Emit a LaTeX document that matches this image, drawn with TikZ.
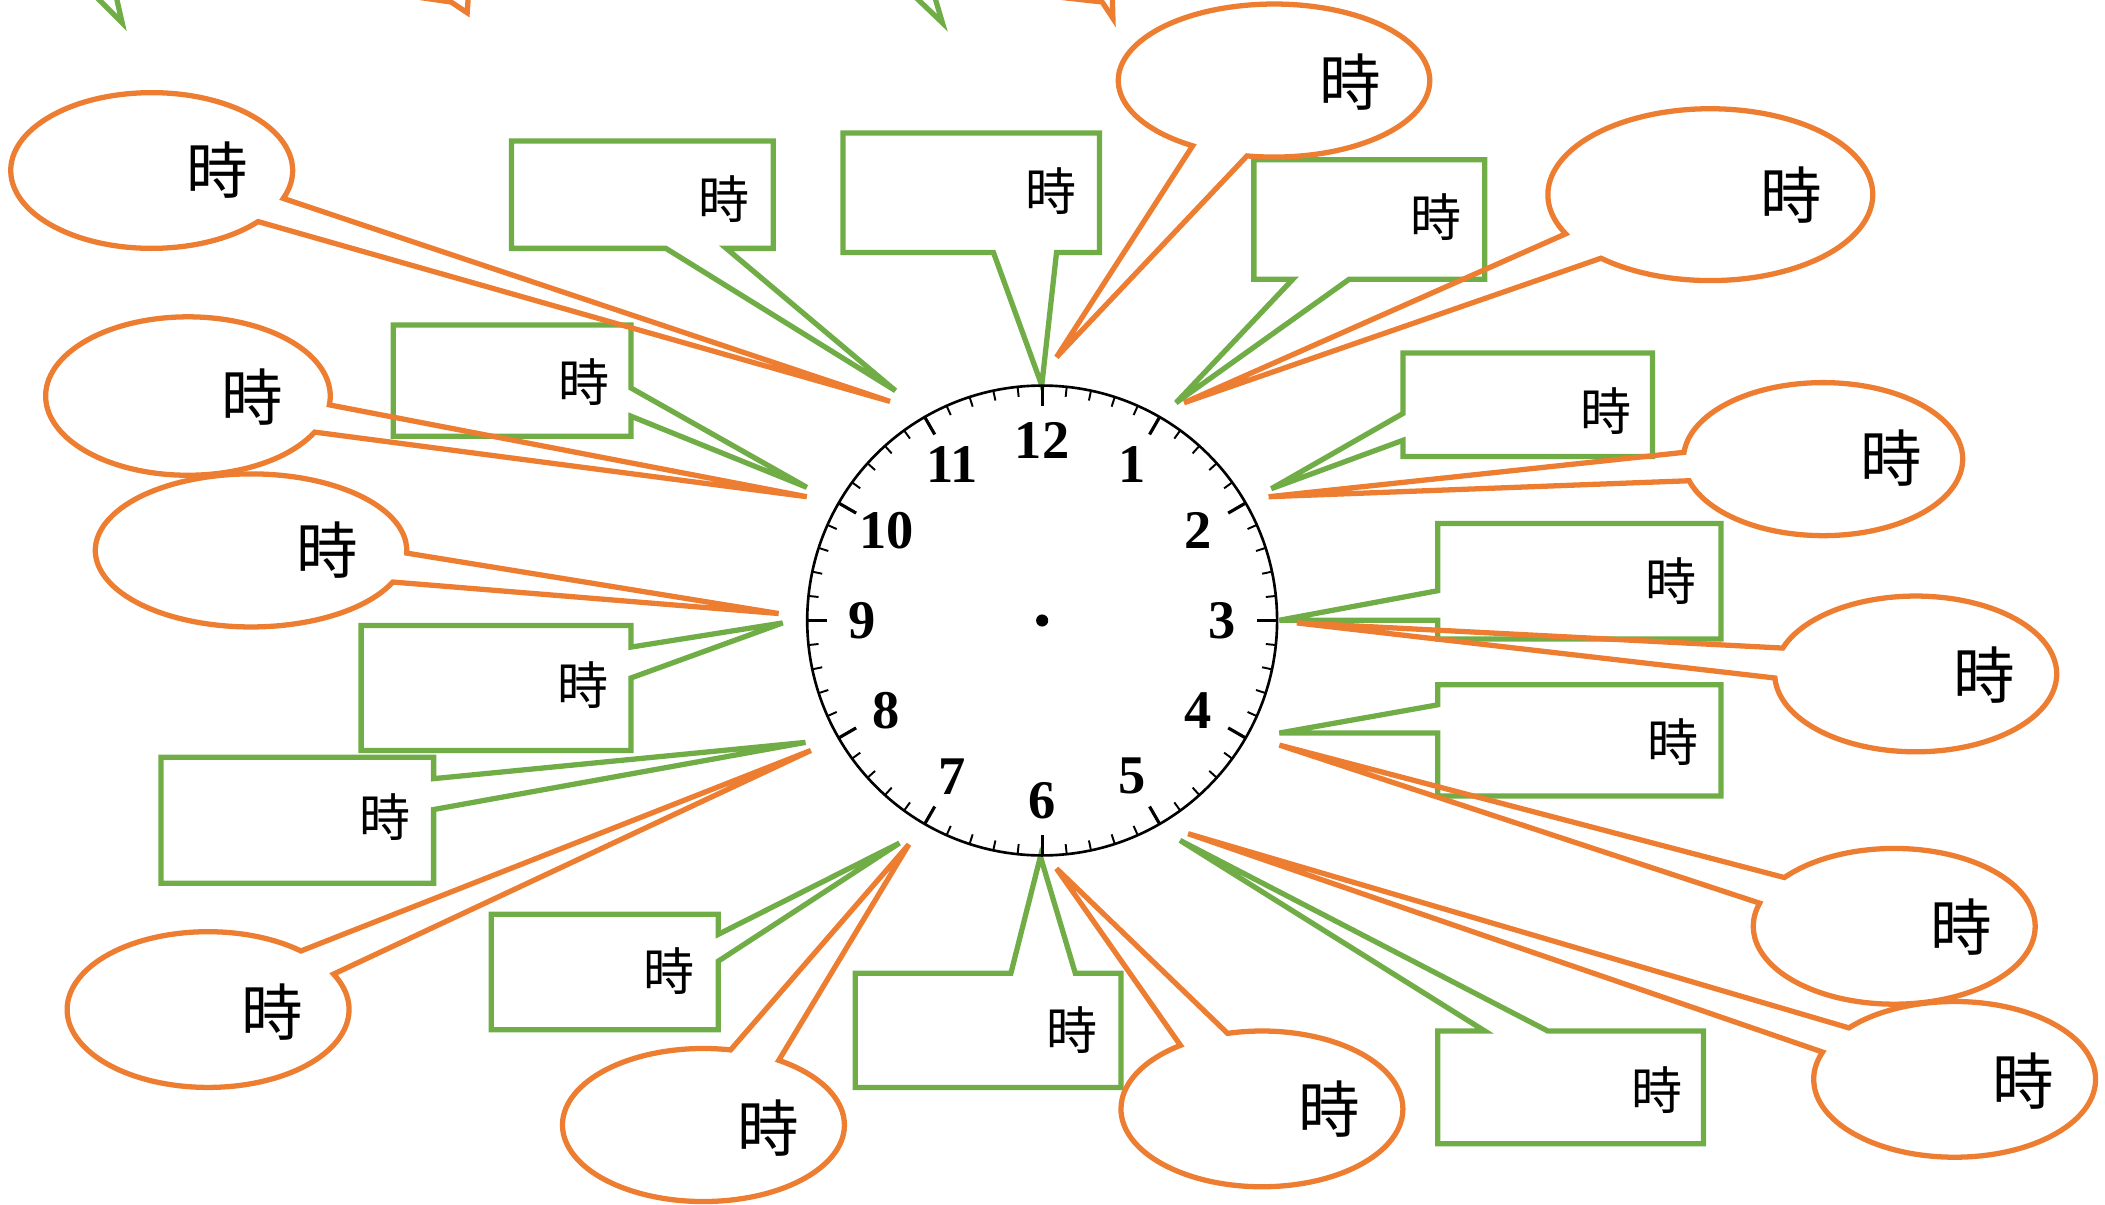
\documentclass[tikz,border=0pt]{standalone}
\usepackage{fontspec}
\setmainfont{Liberation Serif}
\newfontfamily\jpfont{Noto Sans CJK JP}
\usetikzlibrary{calc}
\definecolor{callorange}{HTML}{ED7D31}
\definecolor{callgreen}{HTML}{70AD47}
\tikzset{
 gcall/.style={draw=callgreen, line width=1.5pt},
 ocall/.style={draw=callorange, line width=1.5pt},
 etext/.style={font=\jpfont\fontsize{17.5}{20}\selectfont, inner sep=0pt},
 rtext/.style={font=\jpfont\fontsize{14.5}{17}\selectfont, inner sep=0pt},
 clocknum/.style={font=\bfseries\fontsize{15.5}{18}\selectfont, inner sep=0pt},
 clockline/.style={draw=black, line width=0.75pt},
 minutetick/.style={draw=black, line width=0.55pt},
 hourtick/.style={draw=black, line width=0.9pt},
}
\newcommand\ellcall[6]{\draw[ocall] ($(#1)+(#4:#2 and #3)$) arc[start angle=#4, end angle=#5, x radius=#2, y radius=#3] -- (#6) -- cycle;}
\begin{document}
\begin{tikzpicture}[x=0.013425cm, y=-0.013425cm]
\useasboundingbox (0,0) rectangle (1568,897);
% partial callouts cut off at the top edge
\begin{scope}
\clip (0,0) rectangle (1568,897);
\draw[gcall] (69,-5) -- (91,17) -- (86,-5);
\draw[ocall] (305,-3) -- (336,1.5) -- (348,9.5) -- (349,-5);
\draw[gcall] (679,-5) -- (702,17) -- (695.5,-5);
\draw[ocall] (790,-2) -- (821,1.5) -- (829,13.6) -- (828.5,-5);
\end{scope}
% tips
\coordinate (tG1) at (667,291);
\coordinate (tG2) at (776,287);
\coordinate (tG3) at (876,300);
\coordinate (tG4) at (947,364);
\coordinate (tG5) at (953,462);
\coordinate (tG6) at (953,546);
\coordinate (tG7) at (879,626);
\coordinate (tG8) at (775,638);
\coordinate (tG9) at (670,628);
\coordinate (tG10) at (600,553);
\coordinate (tG11) at (583,464);
\coordinate (tG12) at (601,363);
% green rectangular callouts
\draw[gcall] (381,105) -- (576,105) -- (576,185) -- (541,185) -- (tG1) -- (496,185) -- (381,185) -- cycle;
\draw[gcall] (628,99) -- (819,99) -- (819,188) -- (787,188) -- (tG2) -- (740,188) -- (628,188) -- cycle;
\draw[gcall] (934,119) -- (1106,119) -- (1106,208) -- (1005,208) -- (tG3) -- (963,208) -- (934,208) -- cycle;
\draw[gcall] (1045,263) -- (1231,263) -- (1231,340) -- (1045,340) -- (1045,328) -- (tG4) -- (1045,308) -- cycle;
\draw[gcall] (1071,390) -- (1282,390) -- (1282,476) -- (1071,476) -- (1071,462) -- (tG5) -- (1071,440) -- cycle;
\draw[gcall] (1071,510) -- (1282,510) -- (1282,593) -- (1071,593) -- (1071,546) -- (tG6) -- (1071,525) -- cycle;
\draw[gcall] (1071,768) -- (1106,768) -- (tG7) -- (1153,768) -- (1269,768) -- (1269,852) -- (1071,852) -- cycle;
\draw[gcall] (637,725) -- (753,725) -- (tG8) -- (801,725) -- (835,725) -- (835,810) -- (637,810) -- cycle;
\draw[gcall] (366,681) -- (535,681) -- (535,696) -- (tG9) -- (535,716) -- (535,767) -- (366,767) -- cycle;
\draw[gcall] (120,564) -- (323,564) -- (323,580) -- (tG10) -- (323,603) -- (323,658) -- (120,658) -- cycle;
\draw[gcall] (269,466) -- (470,466) -- (470,482) -- (tG11) -- (470,505) -- (470,559) -- (269,559) -- cycle;
\draw[gcall] (293,242) -- (470,242) -- (470,289) -- (tG12) -- (470,310) -- (470,325) -- (293,325) -- cycle;
\node[rtext] (lG1) at (539.6,148.5) {時};
\node[rtext] (lG2) at (783,142) {時};
\node[rtext] (lG3) at (1070,161.5) {時};
\node[rtext] (lG4) at (1196,306.5) {時};
\node[rtext] (lG5) at (1245,433) {時};
\node[rtext] (lG6) at (1246,552.5) {時};
\node[rtext] (lG7) at (1234,812) {時};
\node[rtext] (lG8) at (798.5,767.5) {時};
\node[rtext] (lG9) at (498.5,723) {時};
\node[rtext] (lG10) at (286.5,608.5) {時};
\node[rtext] (lG11) at (434,510) {時};
\node[rtext] (lG12) at (435,284.5) {時};
% orange elliptical callouts
\coordinate (cO1) at (113,127);   \coordinate (tO1) at (663,299);
\coordinate (cO2) at (949,60);    \coordinate (tO2) at (787,266);
\coordinate (cO3) at (1274,145);  \coordinate (tO3) at (882,300);
\coordinate (cO4) at (1358,342);  \coordinate (tO4) at (945,370);
\coordinate (cO5) at (1427,502);  \coordinate (tO5) at (966,464);
\coordinate (cO6) at (1411,690);  \coordinate (tO6) at (953,555);
\coordinate (cO7) at (1456,804);  \coordinate (tO7) at (885,621);
\coordinate (cO8) at (940,826);   \coordinate (tO8) at (787,647);
\coordinate (cO9) at (524,838);   \coordinate (tO9) at (677,629);
\coordinate (cO10) at (155,752);  \coordinate (tO10) at (604,559);
\coordinate (cO11) at (187,410);  \coordinate (tO11) at (580,457);
\coordinate (cO12) at (140,295);  \coordinate (tO12) at (601,370);
\ellcall{cO1}{105}{58}{41}{381}{tO1}
\ellcall{cO2}{116}{57}{121.5}{460}{tO2}
\ellcall{cO3}{121}{64}{152.9}{492.3}{tO3}
\ellcall{cO4}{104}{57}{185.1}{523.6}{tO4}
\ellcall{cO5}{105}{58}{199.4}{537}{tO5}
\ellcall{cO6}{105}{58}{218.8}{557.3}{tO6}
\ellcall{cO7}{105}{58}{221.4}{560.5}{tO7}
\ellcall{cO8}{105}{58}{255.9}{594.7}{tO8}
\ellcall{cO9}{105}{57}{302.3}{641.1}{tO9}
\ellcall{cO10}{105}{58}{332.9}{671.2}{tO10}
\ellcall{cO11}{116}{57}{24.4}{362}{tO11}
\ellcall{cO12}{106}{59}{27.1}{366.4}{tO12}
\node[etext] (lO1) at (162,127) {時};
\node[etext] (lO2) at (1006,61) {時};
\node[etext] (lO3) at (1334,145) {時};
\node[etext] (lO4) at (1409,341) {時};
\node[etext] (lO5) at (1478,503) {時};
\node[etext] (lO6) at (1461,690.5) {時};
\node[etext] (lO7) at (1507,805) {時};
\node[etext] (lO8) at (990,826) {時};
\node[etext] (lO9) at (572,840) {時};
\node[etext] (lO10) at (203,754) {時};
\node[etext] (lO11) at (244,410) {時};
\node[etext] (lO12) at (188,295.5) {時};
% clock
\coordinate (clk) at (776.3,462.2);
\draw[clockline] (clk) circle[radius=175];
\foreach \i in {0,...,59}
  \draw[minutetick] ($(clk)+(-90+6*\i:175)$) -- ($(clk)+(-90+6*\i:167.5)$);
\foreach \h in {1,...,12}
  \draw[hourtick] ($(clk)+(-90+30*\h:175)$) -- ($(clk)+(-90+30*\h:160)$);
\foreach \h in {1,...,12}
  \node[clocknum] (n\h) at ($(clk)+(-90+30*\h:134)$) {\h};
\fill[black] (clk) circle[radius=4.5];
\end{tikzpicture}
\end{document}
